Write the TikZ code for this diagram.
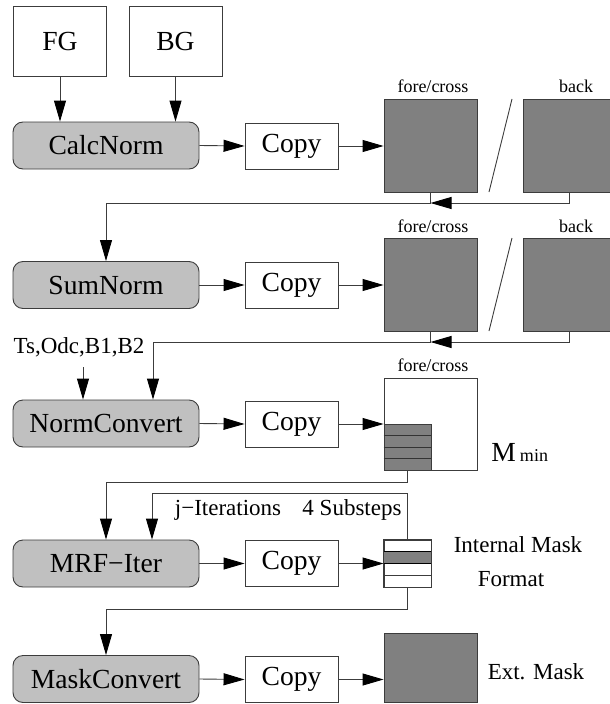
\documentclass[tikz,border=0pt]{standalone}
\usepackage{fontspec}
\setmainfont{Liberation Serif}
\usetikzlibrary{arrows.meta}
\definecolor{procfill}{RGB}{192,192,192}
\definecolor{datafill}{RGB}{128,128,128}
\definecolor{wire}{RGB}{60,60,60}
\begin{document}
\begin{tikzpicture}[x=1pt,y=-1pt,line width=0.9pt,
  big/.style={font=\fontsize{27.6}{30}\selectfont},
  mid/.style={font=\fontsize{23}{26}\selectfont},
  small/.style={font=\fontsize{18}{20}\selectfont},
  srcbox/.style={draw=wire,fill=white,minimum width=93pt,minimum height=70pt,inner sep=0pt,big},
  proc/.style={draw=wire,fill=procfill,rounded corners=10pt,minimum width=186pt,minimum height=47pt,inner sep=0pt,big},
  copybox/.style={draw=wire,fill=white,minimum width=93pt,minimum height=46pt,inner sep=0pt,big},
  datablk/.style={draw=wire,fill=datafill,minimum width=93pt,minimum height=93pt,inner sep=0pt},
  wbox/.style={draw=wire,fill=white,inner sep=0pt},
  lbl/.style={inner sep=0pt},
  arr/.style={draw=wire,-{Triangle[length=21pt,width=12pt,color=black,fill=black]}},
  wireline/.style={draw=wire}]
\useasboundingbox (0,0) rectangle (610,704);
\clip (0,0) rectangle (610,704);

% ---------- row 1: CalcNorm ----------
\node[srcbox] (fg) at (60,41) {FG};
\node[srcbox] (bg) at (175.5,41) {BG};
\node[proc] (calc) at (106,145.5) {CalcNorm};
\node[copybox] (copy1) at (291.5,146) {Copy};
\node[datablk] (fc1) at (430.5,145.5) {};
\node[datablk] (bk1) at (569.5,145.5) {};
\node[lbl,small] at (433,86) {fore/cross};
\node[lbl,small] at (576,86) {back};
\draw[wireline] (512,99) -- (489,192);

\draw[arr] (fg.south) -- (fg.south |- calc.north);
\draw[arr] (bg.south) -- (bg.south |- calc.north);
\draw[arr] (calc.east) -- (copy1.west);
\draw[arr] (copy1.east) -- (copy1.east -| fc1.west);

% ---------- row 2: SumNorm ----------
\node[proc] (sum) at (106,285) {SumNorm};
\node[copybox] (copy2) at (291.5,285) {Copy};
\node[datablk] (fc2) at (430.5,284.5) {};
\node[datablk] (bk2) at (569.5,284.5) {};
\node[lbl,small] at (433,226) {fore/cross};
\node[lbl,small] at (576,226) {back};
\draw[wireline] (512,238) -- (489,331);

\coordinate (j1) at (fc1.south |- 0,203);
\draw[arr] (fc1.south) -- (j1) -| (sum.north);
\draw[arr] (bk1.south) |- (j1);
\draw[arr] (sum.east) -- (copy2.west);
\draw[arr] (copy2.east) -- (copy2.east -| fc2.west);

% ---------- row 3: NormConvert ----------
\node[proc] (norm) at (106,423.5) {NormConvert};
\node[copybox] (copy3) at (291.5,424) {Copy};
\node[wbox,minimum width=93pt,minimum height=92pt] (fc3) at (430.5,424) {};
\node[wbox,fill=datafill,minimum width=47pt,minimum height=46pt] (st3) at (407.5,447) {};
\foreach \k in {1,2,3}
  \draw[draw=black!80] (st3.west |- 0,{424+11.5*\k}) -- (st3.east |- 0,{424+11.5*\k});
\node[lbl,small] at (433,365) {fore/cross};
\node[lbl,anchor=base west] (mmin) at (491,461)
  {{\fontsize{27.6}{30}\selectfont M}\hspace{4pt}{\fontsize{18}{20}\selectfont min}};
\node[lbl,mid] (ts) at (79,347) {Ts,Odc,B1,B2};

\coordinate (j2) at (fc2.south |- 0,342);
\coordinate (k2) at (153,342);
\draw[arr] (fc2.south) -- (j2) -- (k2) -- (k2 |- norm.north);
\draw[arr] (bk2.south) |- (j2);
\draw[arr] (83,367) -- (83,0 |- norm.north);
\draw[arr] (norm.east) -- (copy3.west);
\draw[arr] (copy3.east) -- (copy3.east -| fc3.west);

% ---------- row 4: MRF-Iter ----------
\node[proc] (mrf) at (106,563.5) {MRF−Iter};
\node[copybox] (copy4) at (291.5,563.5) {Copy};
\node[wbox,minimum width=47pt,minimum height=47pt] (im) at (407.5,563.5) {};
\fill[datafill] (384,551.7) rectangle (431,563.3);
\foreach \yy in {551.7,563.3}
  \draw[draw=black,line width=1.3pt] (im.west |- 0,\yy) -- (im.east |- 0,\yy);
\draw[draw=wire] (im.west |- 0,575) -- (im.east |- 0,575);
\draw[draw=wire] (im.north west) rectangle (im.south east);
\node[lbl,mid] at (228,510) {j−Iterations};
\node[lbl,mid] at (352,510) {4 Substeps};
\node[lbl,mid] at (518,545) {Internal Mask};
\node[lbl,mid] at (511,579) {Format};

\coordinate (s3) at (st3.south);
\draw[arr] (s3) -- (s3 |- 0,482) -| (mrf.north);
\coordinate (k4) at (152,493);
\draw[arr] (im.north) |- (k4) -- (k4 |- mrf.north);
\draw[arr] (mrf.east) -- (copy4.west);
\draw[arr] (copy4.east) -- (copy4.east -| im.west);

% ---------- row 5: MaskConvert ----------
\node[proc] (mask) at (106,679) {MaskConvert};
\node[copybox] (copy5) at (291.5,679.5) {Copy};
\node[datablk,minimum height=69pt] (ext) at (430.5,667.5) {};
\node[lbl,mid] at (536,672) {Ext. Mask};

\draw[arr] (im.south) -- (im.south |- 0,609) -| (mask.north);
\draw[arr] (mask.east) -- (copy5.west);
\draw[arr] (copy5.east) -- (copy5.east -| ext.west);
\end{tikzpicture}
\end{document}
